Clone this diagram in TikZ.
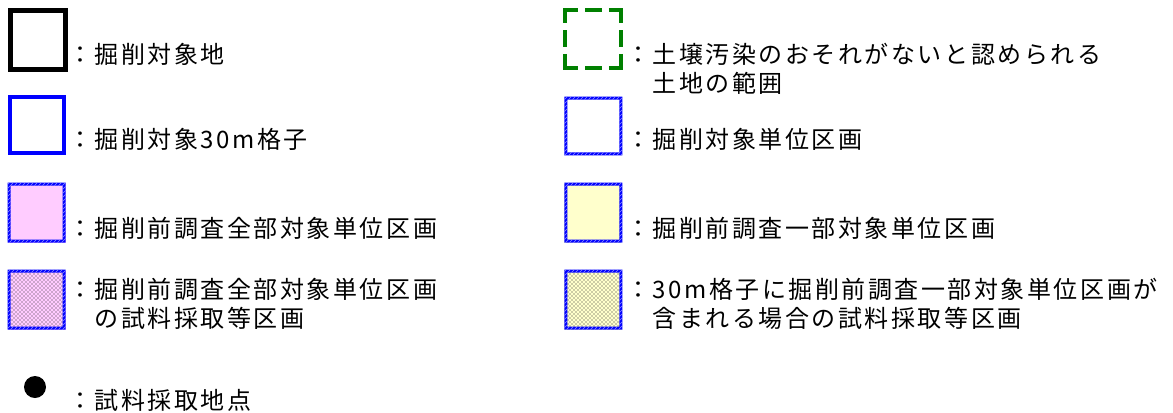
\documentclass[tikz,border=0pt]{standalone}
\usepackage{fontspec}
\newfontfamily\jpfont[LetterSpace=10.5]{Noto Sans CJK JP}
\usetikzlibrary{patterns}
\definecolor{pinkfill}{HTML}{FFCCFF}
\definecolor{yellowfill}{HTML}{FFFFCC}
\definecolor{dgreen}{HTML}{008000}
\tikzset{
  lbl/.style={anchor=west, inner sep=0pt, font=\jpfont\fontsize{18pt}{20pt}\selectfont, text=black},
  greendash/.style={dgreen, line width=3pt, dash pattern=on 11.25pt off 5.25pt on 12.4pt off 5.25pt on 20pt},
  hatchborder/.style={pattern=north east lines, pattern color=white!55!blue, even odd rule},
  dotfill/.style={pattern=crosshatch dots, pattern color=black!85}
}
\newcommand\myhatchframe[4]{%
  \fill[blue, even odd rule] (#1,#2) rectangle (#3,#4) (#1+3,#2+3) rectangle (#3-3,#4-3);
  \fill[hatchborder] (#1,#2) rectangle (#3,#4) (#1+3,#2+3) rectangle (#3-3,#4-3);
}
\begin{document}
\begin{tikzpicture}[x=0.75pt, y=-0.75pt]
\useasboundingbox[fill=white] (0,0) rectangle (1173,412);
% left column
\draw[line width=3.75pt] (10.8,10.8) rectangle (65.2,69.2);
\draw[blue, line width=3pt] (10.3,97.3) rectangle (63.7,153.2);
\fill[pinkfill] (7.5,182.5) rectangle (65.5,242.5);
\myhatchframe{7.5}{182.5}{65.5}{242.5}
\fill[pinkfill] (7.5,269.5) rectangle (65.5,329.5);
\fill[dotfill] (10.5,272.5) rectangle (62.5,326.5);
\myhatchframe{7.5}{269.5}{65.5}{329.5}
\node[circle, fill=black, minimum size=16.5pt, inner sep=0pt] (dot) at (35,387) {};
% right column
\draw[greendash] (563.3,10.3) -- (622.7,10.3);
\draw[greendash] (563.3,67.7) -- (622.7,67.7);
\draw[greendash] (565.3,8.3) -- (565.3,69.7);
\draw[greendash] (620.7,8.3) -- (620.7,69.7);
\myhatchframe{564.3}{96.7}{622.3}{155.3}
\fill[yellowfill] (564.3,182.5) rectangle (622.3,242.5);
\myhatchframe{564.3}{182.5}{622.3}{242.5}
\fill[yellowfill] (564.3,269.5) rectangle (622.3,329.5);
\fill[dotfill] (567.3,272.5) rectangle (619.3,326.5);
\myhatchframe{564.3}{269.5}{622.3}{329.5}
% labels left
\node[lbl] (t1) at (68,54) {：掘削対象地};
\node[lbl] (t2) at (68,139) {：掘削対象30m格子};
\node[lbl] (t3) at (68,228) {：掘削前調査全部対象単位区画};
\node[lbl] (t4a) at (68,289) {：掘削前調査全部対象単位区画};
\node[lbl] (t4b) at (94.5,318) {の試料採取等区画};
\node[lbl] (t5) at (68,400) {：試料採取地点};
% labels right
\node[lbl] (r1a) at (626,54) {：土壌汚染のおそれがないと認められる};
\node[lbl] (r1b) at (652.5,83) {土地の範囲};
\node[lbl] (r2) at (626,139) {：掘削対象単位区画};
\node[lbl] (r3) at (626,228) {：掘削前調査一部対象単位区画};
\node[lbl] (r4a) at (626,289) {：30m格子に掘削前調査一部対象単位区画が};
\node[lbl] (r4b) at (652.5,318) {含まれる場合の試料採取等区画};
\end{tikzpicture}
\end{document}
